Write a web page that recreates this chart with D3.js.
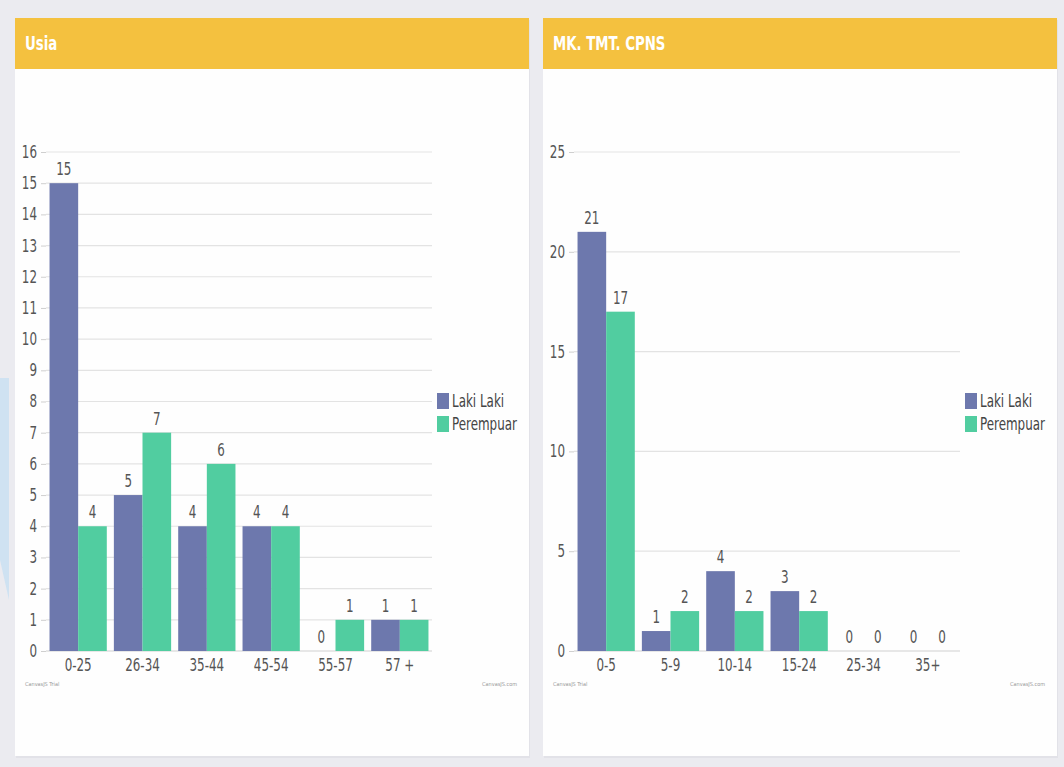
<!DOCTYPE html>
<html>
<head>
<meta charset="utf-8">
<script src="https://cdn.jsdelivr.net/npm/d3@7"></script>
<style>
    html, body {margin: 0; padding: 0; background: #ebebf0;}
    svg {display: block;}
    text {font-family: "DejaVu Sans Condensed", "DejaVu Sans", sans-serif;}
</style>
</head>
<body>
<svg id="board" width="1064" height="767"></svg>
<script>
'use strict';

// data
var seriesNames = ["Laki Laki", "Perempuar"];
var seriesColors = ["#6d78ad", "#51cda0"];

var usiaCategories = ["0-25", "26-34", "35-44", "45-54", "55-57", "57 +"];
var usiaLaki = [15, 5, 4, 4, 0, 1];
var usiaPerempuan = [4, 7, 6, 4, 1, 1];
var usiaTicks = d3.range(0, 17, 1);

var mkCategories = ["0-5", "5-9", "10-14", "15-24", "25-34", "35+"];
var mkLaki = [21, 1, 4, 3, 0, 0];
var mkPerempuan = [17, 2, 2, 2, 0, 0];
var mkTicks = [0, 5, 10, 15, 20, 25];

var SQUEEZE = 0.78;   // the reference font is narrower than anything installed

var svg = d3.select("#board");

// squeeze a text sitting at (x, y) horizontally
function narrowText(sel, x, y) {
    return sel.attr("x", 0).attr("y", 0)
        .attr("transform", "translate(" + x + "," + y + ") scale(" + SQUEEZE + ",1)");
}

// faint blue shape peeking in from the left
svg.append("path")
    .attr("d", "M0,378 L9,378 L9,600 L0,560 Z")
    .attr("fill", "#cfe2f2");

function drawPanel(opt) {
    var g = svg.append("g").attr("transform", "translate(" + opt.x + ",18)");
    var w = 514, h = 738;

    g.append("rect").attr("x", 1).attr("y", 2).attr("width", w).attr("height", h)
        .attr("fill", "#e2e2e8");
    g.append("rect").attr("width", w).attr("height", h).attr("fill", "#fefefe");
    g.append("rect").attr("width", w).attr("height", 51).attr("fill", "#f4c13f");
    narrowText(g.append("text"), 10, 32)
        .attr("fill", "#ffffff").attr("font-size", 19).attr("font-weight", "bold")
        .text(opt.title);

    // plot area, in panel coordinates
    var left = 31, right = 417, top = 134, bottom = 633;

    var x0 = d3.scaleBand().domain(opt.categories).range([left, right]).paddingInner(0.11).paddingOuter(0.055);
    var x1 = d3.scaleBand().domain(seriesNames).range([0, x0.bandwidth()]);
    var y = d3.scaleLinear().domain([0, opt.max]).range([bottom, top]);

    // grid
    g.append("g").selectAll("line").data(opt.ticks).enter().append("line")
        .attr("x1", left).attr("x2", right)
        .attr("y1", function(d) {return y(d);}).attr("y2", function(d) {return y(d);})
        .attr("stroke", function(d) {return d === 0 ? "#cfcfcf" : "#e3e3e3";})
        .attr("stroke-width", 1.2);

    var yAxis = g.append("g").attr("transform", "translate(" + left + ",0)")
        .call(d3.axisLeft(y).tickValues(opt.ticks).tickSize(5).tickPadding(4).tickFormat(d3.format("d")));
    yAxis.select(".domain").remove();
    yAxis.selectAll(".tick line").attr("stroke", "#cfcfcf");
    yAxis.selectAll(".tick text").attr("fill", "#555").attr("font-size", 17)
        .attr("font-family", "DejaVu Sans Condensed, sans-serif")
        .attr("x", -9 / SQUEEZE).attr("transform", "scale(" + SQUEEZE + ",1)");

    var xAxis = g.append("g").attr("transform", "translate(0," + bottom + ")")
        .call(d3.axisBottom(x0).tickSize(0).tickPadding(8));
    xAxis.select(".domain").remove();
    xAxis.selectAll(".tick text").attr("fill", "#555").attr("font-size", 17)
        .attr("font-family", "DejaVu Sans Condensed, sans-serif")
        .attr("transform", "scale(" + SQUEEZE + ",1)");

    var rows = opt.categories.map(function(c, i) {
        return {cat: c, values: [opt.a[i], opt.b[i]]};
    });

    var grp = g.append("g").selectAll("g").data(rows).enter().append("g")
        .attr("transform", function(d) {return "translate(" + x0(d.cat) + ",0)";});

    var cells = grp.selectAll("g").data(function(d) {
        return d.values.map(function(v, k) {return {name: seriesNames[k], v: v, k: k};});
    }).enter().append("g");

    cells.append("rect")
        .attr("x", function(d) {return x1(d.name);})
        .attr("width", x1.bandwidth())
        .attr("y", function(d) {return y(d.v);})
        .attr("height", function(d) {return bottom - y(d.v);})
        .attr("fill", function(d) {return seriesColors[d.k];});

    cells.append("text")
        .attr("transform", function(d) {
            return "translate(" + (x1(d.name) + x1.bandwidth() / 2) + "," + (y(d.v) - 8) + ") scale(" + SQUEEZE + ",1)";
        })
        .attr("text-anchor", "middle").attr("fill", "#555").attr("font-size", 17)
        .text(function(d) {return d.v;});

    // legend
    var lg = g.append("g").attr("transform", "translate(422,375)");
    seriesNames.forEach(function(name, k) {
        lg.append("rect").attr("x", 0).attr("y", k * 23).attr("width", 12).attr("height", 16)
            .attr("fill", seriesColors[k]);
        narrowText(lg.append("text"), 15, k * 23 + 14)
            .attr("fill", "#444").attr("font-size", 17).text(name);
    });

    g.append("text").attr("x", 10).attr("y", 668).attr("fill", "#999").attr("font-size", 5.5)
        .text("CanvasJS Trial");
    g.append("text").attr("x", 502).attr("y", 668).attr("fill", "#999").attr("font-size", 5.5)
        .attr("text-anchor", "end").text("CanvasJS.com");
}

drawPanel({x: 15, title: "Usia", categories: usiaCategories, a: usiaLaki, b: usiaPerempuan, max: 16, ticks: usiaTicks});
drawPanel({x: 543, title: "MK. TMT. CPNS", categories: mkCategories, a: mkLaki, b: mkPerempuan, max: 25, ticks: mkTicks});
</script>
</body>
</html>
